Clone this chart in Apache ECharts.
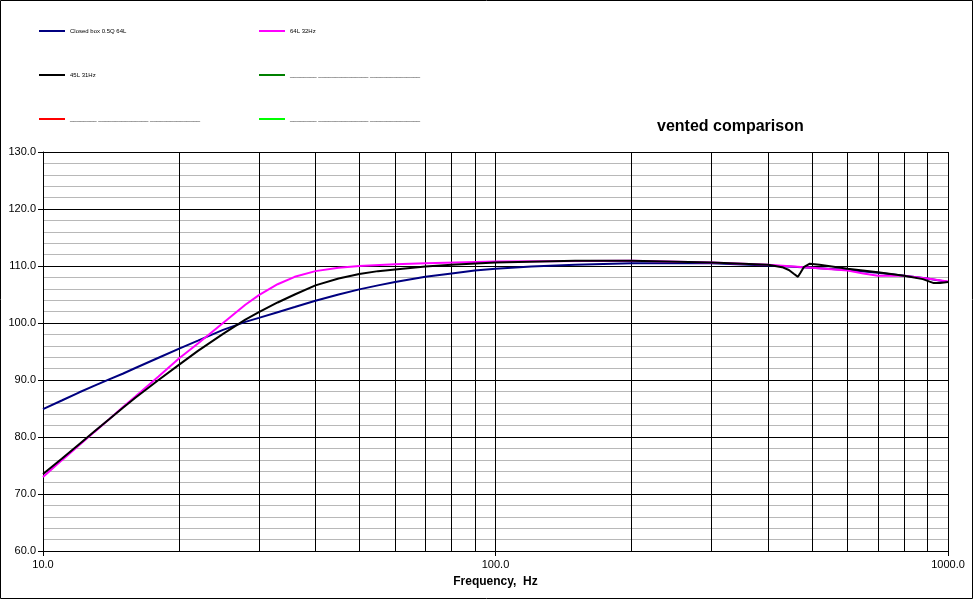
<!DOCTYPE html>
<html>
<head>
<meta charset="utf-8">
<script src="https://cdn.jsdelivr.net/npm/echarts@6/dist/echarts.min.js"></script>
<style>
html,body{margin:0;padding:0;background:#fff;}
#chart{width:973px;height:599px;}
</style>
</head>
<body>
<div id="chart"></div>
<script>
// ---- data ----
var seriesNames = ['Closed box 0.5Q 64L', '64L 32Hz', '45L 31Hz', 'Series 4', 'Series 5', 'Series 6'];
var blankLabel = '________ _______________ _______________';

var freqBlue = [10, 11, 12, 13, 14, 15, 16, 18, 20, 22, 25, 28, 30, 33, 36, 40, 45, 50, 55, 60, 70, 80, 90, 100, 120, 150, 200, 300, 400, 500, 600, 700, 800, 900, 1000];
var dbBlue   = [84.9, 86.4, 87.8, 89.0, 90.1, 91.1, 92.1, 93.9, 95.5, 96.9, 98.8, 100.2, 100.9, 101.9, 102.8, 103.9, 105.0, 105.9, 106.6, 107.2, 108.1, 108.7, 109.2, 109.5, 109.9, 110.2, 110.5, 110.5, 110.1, 109.7, 109.3, 108.8, 108.3, 107.8, 107.2];

var freqMagenta = [10, 11, 12, 13, 14, 15, 16, 18, 20, 22, 25, 28, 30, 33, 36, 40, 45, 50, 60, 70, 100, 200, 300, 400, 500, 600, 650, 700, 800, 900, 1000];
var dbMagenta   = [73.0, 75.9, 78.5, 80.9, 83.1, 85.2, 87.1, 90.6, 93.8, 96.4, 100.0, 103.2, 104.9, 106.8, 108.1, 109.1, 109.7, 110.0, 110.3, 110.5, 110.8, 110.9, 110.6, 110.2, 109.7, 109.2, 108.7, 108.3, 108.3, 107.8, 107.3];

var freqBlack = [10, 11, 12, 13, 14, 15, 16, 18, 20, 22, 25, 28, 30, 33, 36, 40, 45, 50, 55, 60, 70, 80, 100, 150, 200, 300, 400, 430, 445, 457, 466, 472, 480, 495, 520, 600, 700, 800, 880, 930, 960, 1000];
var dbBlack   = [73.5, 76.2, 78.7, 81.0, 83.1, 85.1, 86.9, 90.0, 92.7, 95.1, 98.1, 100.6, 101.9, 103.6, 105.0, 106.6, 107.8, 108.6, 109.1, 109.4, 109.9, 110.2, 110.6, 110.9, 110.9, 110.6, 110.2, 109.8, 109.3, 108.6, 108.1, 108.8, 109.8, 110.4, 110.2, 109.5, 108.9, 108.3, 107.7, 107.0, 107.0, 107.2];

var minorFreqLines = [20, 30, 40, 50, 60, 70, 80, 90, 200, 300, 400, 500, 600, 700, 800, 900];

function pairs(xs, ys) { return xs.map(function (x, i) { return [x, ys[i]]; }); }

var chart = echarts.init(document.getElementById('chart'));
var fontFam = '"Liberation Sans", Arial, sans-serif';

var legendCommon = {
  orient: 'vertical',
  top: 27,
  padding: 0,
  itemWidth: 26,
  itemHeight: 2,
  itemGap: 36,
  itemTextGap: 3,
  icon: 'rect',
  textStyle: { fontSize: 6, color: '#000', fontFamily: fontFam, lineHeight: 8 },
  formatter: function (n) { return n.indexOf('Series') === 0 ? blankLabel : n; },
  selectedMode: false
};

var option = {
  backgroundColor: '#fff',
  animation: false,
  title: {
    text: 'vented comparison',
    left: 657,
    top: 119,
    padding: 0,
    textStyle: { fontSize: 16, fontWeight: 'bold', color: '#000', fontFamily: fontFam }
  },
  legend: [
    Object.assign({ left: 39, data: [seriesNames[0], seriesNames[2], seriesNames[4]] }, legendCommon),
    Object.assign({ left: 259, data: [seriesNames[1], seriesNames[3], seriesNames[5]] }, legendCommon)
  ],
  grid: { left: 43, right: 25, top: 152, bottom: 48, containLabel: false },
  xAxis: {
    type: 'log',
    logBase: 10,
    min: 10,
    max: 1000,
    name: 'Frequency,  Hz',
    nameLocation: 'middle',
    nameGap: 25,
    nameTextStyle: { fontSize: 12, fontWeight: 'bold', color: '#000', fontFamily: fontFam },
    axisLine: { show: true, lineStyle: { color: '#000', width: 1 } },
    axisTick: { show: true, length: 5, lineStyle: { color: '#000' } },
    axisLabel: {
      color: '#000', fontSize: 11, fontFamily: fontFam, margin: 8,
      formatter: function (v) { return Number(v).toFixed(1); }
    },
    splitLine: { show: true, lineStyle: { color: '#000', width: 1 } },
    minorTick: { show: false },
    minorSplitLine: { show: false }
  },
  yAxis: {
    type: 'value',
    min: 60,
    max: 130,
    interval: 10,
    axisLine: { show: true, lineStyle: { color: '#000', width: 1 } },
    axisTick: { show: true, length: 5, lineStyle: { color: '#000' } },
    axisLabel: {
      color: '#000', fontSize: 11, fontFamily: fontFam, margin: 7,
      formatter: function (v) { return Number(v).toFixed(1); }
    },
    splitLine: { show: true, lineStyle: { color: '#000', width: 1 } },
    minorTick: { show: false, splitNumber: 5 },
    minorSplitLine: { show: true, lineStyle: { color: '#b8b8b8', width: 1 } }
  },
  series: [
    {
      name: seriesNames[0], type: 'line', data: pairs(freqBlue, dbBlue),
      showSymbol: false, smooth: false,
      itemStyle: { color: '#000080' }, lineStyle: { color: '#000080', width: 2 },
      z: 3,
      markLine: {
        silent: true, symbol: ['none', 'none'], label: { show: false },
        lineStyle: { color: '#000', width: 1, type: 'solid' },
        data: minorFreqLines.map(function (f) { return { xAxis: f }; }),
        z: 1
      }
    },
    {
      name: seriesNames[1], type: 'line', data: pairs(freqMagenta, dbMagenta),
      showSymbol: false, smooth: false,
      itemStyle: { color: '#ff00ff' }, lineStyle: { color: '#ff00ff', width: 2 }, z: 4
    },
    {
      name: seriesNames[2], type: 'line', data: pairs(freqBlack, dbBlack),
      showSymbol: false, smooth: false,
      itemStyle: { color: '#000000' }, lineStyle: { color: '#000000', width: 2 }, z: 5
    },
    { name: seriesNames[3], type: 'line', data: [], itemStyle: { color: '#008000' } },
    { name: seriesNames[4], type: 'line', data: [], itemStyle: { color: '#ff0000' } },
    { name: seriesNames[5], type: 'line', data: [], itemStyle: { color: '#00ff00' } }
  ],
  graphic: [{
    type: 'rect', silent: true, z: 100,
    shape: { x: 0.5, y: 0.5, width: 972, height: 598 },
    style: { fill: null, stroke: '#000', lineWidth: 1 }
  }]
};
chart.setOption(option);
</script>
</body>
</html>
